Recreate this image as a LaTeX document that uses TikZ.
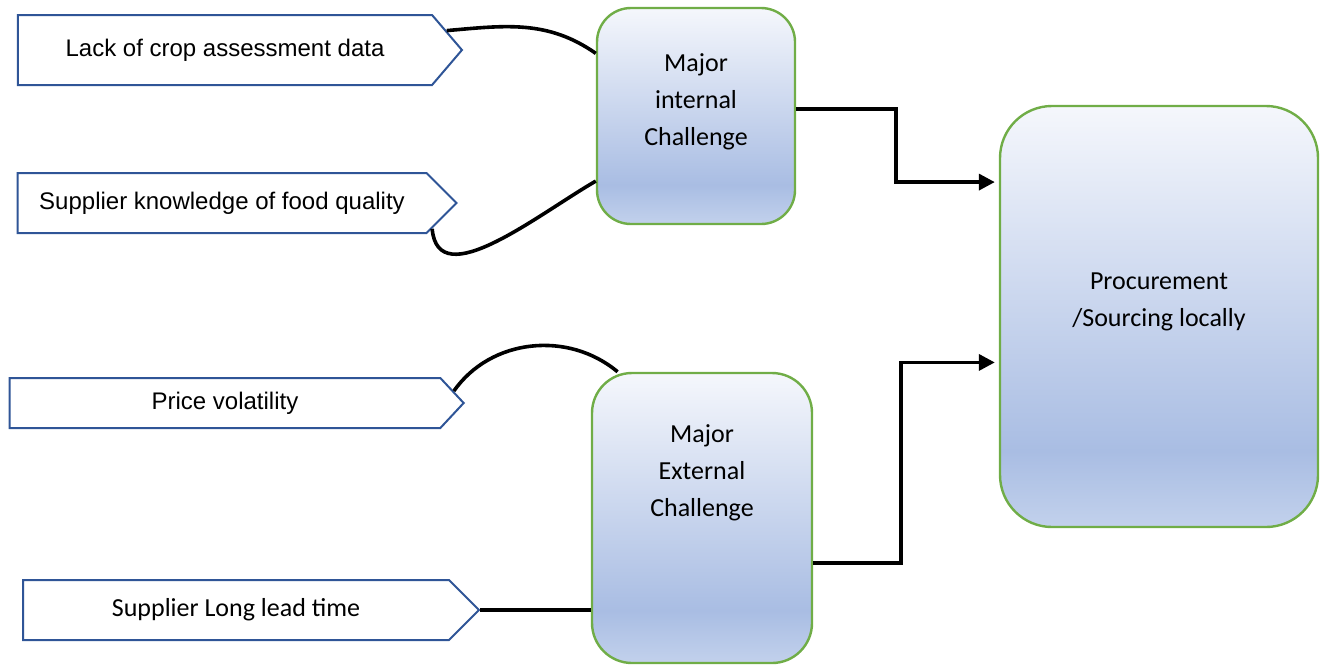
\documentclass[tikz,border=0pt]{standalone}
\usepackage{fontspec}
\setmainfont{Carlito}
\newfontfamily\arialfont{Liberation Sans}
\usetikzlibrary{shapes.symbols,arrows.meta}
\definecolor{boxgreen}{HTML}{70AD47}
\definecolor{tagblue}{HTML}{2F5597}
\definecolor{fadetop}{HTML}{F5F7FC}
\definecolor{fademid}{HTML}{A9BDE3}
\definecolor{fadebot}{HTML}{C2D1EC}
\pgfdeclareverticalshading{boxfade}{100bp}{color(0bp)=(fadebot); color(25bp)=(fadebot); color(34bp)=(fademid); color(75bp)=(fadetop); color(100bp)=(fadetop)}
\begin{document}
\begin{tikzpicture}[x=0.5pt,y=-0.5pt,
  tag/.style={signal, signal to=east, draw=tagblue, line width=1pt, fill=white, inner sep=0pt},
  challenge/.style={rounded corners=17pt, draw=boxgreen, line width=1.2pt, shading=boxfade},
  boxtext/.style={align=center, font=\fontsize{13}{18.5}\selectfont},
  link/.style={line width=1.8pt, black},
  flow/.style={line width=1.8pt, black, -{Triangle[length=8pt,width=8pt]}, shorten >=2pt}]
\useasboundingbox (0,0) rectangle (1325,665);
%%% the four issues on the left
\node[tag, signal pointer angle=99, minimum width=222pt, minimum height=35pt,
  font=\arialfont\fontsize{12}{14}\selectfont] (lack) at (225,50) {Lack of crop assessment data};
\node[tag, signal pointer angle=90, minimum width=219.5pt, minimum height=30pt,
  font=\arialfont\fontsize{12}{14}\selectfont] (know) at (222,203) {Supplier knowledge of food quality};
\node[tag, signal pointer angle=94, minimum width=227pt, minimum height=25pt,
  font=\arialfont\fontsize{12}{14}\selectfont] (price) at (225,403) {Price volatility};
\node[tag, signal pointer angle=90, minimum width=228pt, minimum height=30pt,
  font=\fontsize{13}{15}\selectfont] (lead) at (236,610) {Supplier Long lead time};
%%% the challenge boxes
\node[challenge, minimum width=99pt, minimum height=108pt] (intA) at (696,116) {};
\node[boxtext] (intAtxt) at (696,102) {Major\\internal\\Challenge};
\node[challenge, rounded corners=20pt, minimum width=110pt, minimum height=145pt] (extB) at (702,518) {};
\node[boxtext] (extBtxt) at (702,473) {Major\\External\\Challenge};
% \node[challenge] (proc) at (1159,316) {Procurement};
\node[challenge, rounded corners=26pt, minimum width=159pt, minimum height=210.5pt] (proc) at (1159,316.5) {};
\node[boxtext] (proctxt) at (1159,302) {Procurement\\/Sourcing locally};
%%% connectors
\draw[link] (lack.5) to[out=5,in=145] (intA.148);
\draw[link] (know.-7) to[out=-85,in=-150] (intA.213);
\draw[link] (price.3) to[out=55,in=140] (extB.120);
\draw[link] (lead.east) -- (lead.east -| extB.west);
\draw[flow] (intA.4) -- ++(100,0) |- (proc.140);
\draw[flow] (extB.-22) -- ++(88,0) |- (proc.196);
\end{tikzpicture}
\end{document}
